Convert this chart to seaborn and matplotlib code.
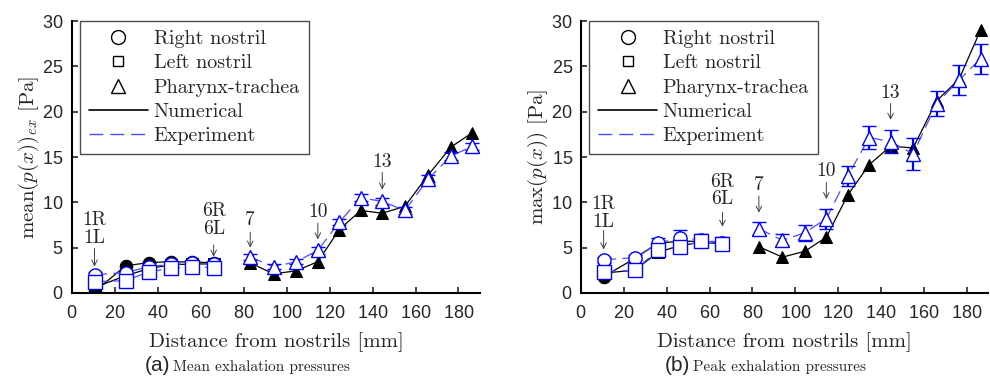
import numpy as np
import pandas as pd
import matplotlib
matplotlib.use("Agg")
import matplotlib.pyplot as plt
from matplotlib.lines import Line2D
import seaborn as sns

# distances [mm]
x_nose = [10.5, 25, 36, 46, 56, 66]
x_phar = [83, 94, 104.5, 114.5, 124.5, 134.5, 144.5, 155, 166, 176.5, 186.5]

# (a) mean exhalation pressures [Pa]
num_mean_right = [0.15, 3.0, 3.35, 3.45, 3.4, 3.35]
num_mean_left = [0.6, 1.9, 2.7, 3.1, 3.2, 3.2]
num_mean_phar = [3.3, 2.1, 2.45, 3.45, 7.0, 9.1, 8.8, 9.55, 13.05, 16.1, 17.7]
exp_mean_right = [2.0, 2.25, 2.9, 3.15, 3.25, 3.15]
exp_mean_left = [1.25, 1.35, 2.35, 2.7, 2.9, 2.8]
exp_mean_phar = [3.95, 2.9, 3.45, 4.7, 7.8, 10.5, 10.1, 9.1, 12.6, 15.1, 16.2]
err_mean_right = [0.3, 0.3, 0.35, 0.3, 0.3, 0.3]
err_mean_left = [0.3, 0.35, 0.35, 0.3, 0.3, 0.3]
err_mean_phar = [0.35, 0.3, 0.3, 0.35, 0.35, 0.4, 0.4, 0.35, 0.4, 0.4, 0.4]

# (b) peak exhalation pressures [Pa]
num_peak_right = [1.8, 3.8, 5.5, 5.7, 5.7, 5.5]
num_peak_left = [2.2, 2.5, 4.5, 5.2, 5.6, 5.4]
num_peak_phar = [5.1, 3.95, 4.6, 6.15, 10.8, 14.15, 16.2, 16.0, 21.2, 23.6, 29.0]
exp_peak_right = [3.65, 3.9, 5.5, 6.1, 5.85, 5.55]
exp_peak_left = [2.35, 2.5, 4.75, 5.1, 5.7, 5.4]
exp_peak_phar = [7.1, 5.8, 6.65, 8.2, 12.9, 17.15, 16.7, 15.35, 20.9, 23.5, 25.85]
err_peak_right = [0.3, 0.3, 0.6, 0.8, 0.6, 0.6]
err_peak_left = [0.3, 0.3, 0.5, 0.6, 0.5, 0.6]
err_peak_phar = [0.7, 0.65, 0.87, 1.1, 1.07, 1.25, 1.23, 1.75, 1.4, 1.7, 1.65]

# annotations: label, x, text centre y, arrow start y, arrow end y
notes_mean = [("1R\n1L", 10.5, 7.1, 4.9, 2.9), ("6R\n6L", 66, 8.05, 5.3, 4.0),
              ("7", 83, 8.0, 6.7, 5.0), ("10", 114.5, 8.95, 7.7, 5.9),
              ("13", 144.5, 14.5, 13.3, 11.4)]
notes_peak = [("1R\n1L", 10.5, 8.8, 6.9, 4.8), ("6R\n6L", 66, 11.3, 8.9, 7.3),
              ("7", 83, 11.9, 10.7, 8.85), ("10", 114.5, 13.4, 12.2, 10.35),
              ("13", 144.5, 22.1, 20.9, 19.1)]

sns.set_style("ticks")
plt.rcParams["font.family"] = ["cmr10", "DejaVu Serif"]
plt.rcParams["mathtext.fontset"] = "cm"
plt.rcParams["axes.formatter.use_mathtext"] = True

BLUE = "#0000ff"
LBLUE = "#4d4dff"
SANS = ["Liberation Sans", "DejaVu Sans"]
DASH = (10, 5)


def draw_panel(ax, num, exp, err, notes, ylabel):
    markers = ["o", "s", "^"]
    xs = [x_nose, x_nose, x_phar]
    for xv, yv, m in zip(xs, num, markers):
        sns.lineplot(x=xv, y=yv, ax=ax, color="k", lw=0.9, marker=m, ms=9,
                     mfc="k", mec="k", zorder=2, sort=False)
    for xv, yv, ev, m in zip(xs, exp, err, markers):
        sns.lineplot(x=xv, y=yv, ax=ax, color=LBLUE, lw=0.9, dashes=DASH,
                     zorder=3, sort=False)
        ax.errorbar(xv, yv, yerr=ev, fmt=m, ms=9.5, mfc="white", mec=BLUE,
                    mew=1.0, ecolor=BLUE, elinewidth=1.6, capsize=5,
                    capthick=1.6, zorder=4)
    for lab, xv, ty, y0, y1 in notes:
        ax.text(xv, ty, lab, ha="center", va="center", fontsize=14,
                linespacing=1.0)
        ax.annotate("", xy=(xv, y1), xytext=(xv, y0),
                    arrowprops=dict(arrowstyle="->", lw=0.7, color="0.25",
                                    shrinkA=0, shrinkB=0))
    ax.set_xlim(0, 190)
    ax.set_ylim(0, 30)
    ax.set_xticks(np.arange(0, 181, 20))
    ax.set_yticks(np.arange(0, 31, 5))
    ax.tick_params(direction="in", length=4, width=1.2, labelsize=13)
    ax.tick_params(axis="x", pad=9)
    ax.tick_params(axis="y", pad=6)
    for t in ax.get_xticklabels() + ax.get_yticklabels():
        t.set_family(SANS)
    sns.despine(ax=ax)
    for s in ["left", "bottom"]:
        ax.spines[s].set_linewidth(1.5)
        ax.spines[s].set_color("k")
    ax.set_xlabel("Distance from nostrils [mm]", fontsize=15, labelpad=7)
    ax.set_ylabel(ylabel, fontsize=15, labelpad=1)

    handles = [
        Line2D([], [], ls="none", marker="o", mfc="none", mec="k", ms=10),
        Line2D([], [], ls="none", marker="s", mfc="none", mec="k", ms=7.5),
        Line2D([], [], ls="none", marker="^", mfc="none", mec="k", ms=10),
        Line2D([], [], color="k", lw=1.2),
        Line2D([], [], color=LBLUE, lw=1.0, dashes=DASH),
    ]
    labels = ["Right nostril", "Left nostril", "Pharynx-trachea",
              "Numerical", "Experiment"]
    leg = ax.legend(handles, labels, loc="upper left",
                    bbox_to_anchor=(0.02, 1.0), borderaxespad=0,
                    fontsize=14.5, handlelength=2.9, handletextpad=0.3,
                    labelspacing=0.3, borderpad=0.45, fancybox=False,
                    framealpha=1, edgecolor="0.3")
    leg.get_frame().set_linewidth(1.0)


fig = plt.figure(figsize=(9.9, 3.77), dpi=100)
ax1 = fig.add_axes([0.0727, 0.223, 0.4121, 0.721])
ax2 = fig.add_axes([0.587, 0.223, 0.411, 0.721])

draw_panel(ax1, [num_mean_right, num_mean_left, num_mean_phar],
           [exp_mean_right, exp_mean_left, exp_mean_phar],
           [err_mean_right, err_mean_left, err_mean_phar],
           notes_mean, r"$\mathrm{mean}(p(x))_{ex}$ [Pa]")
draw_panel(ax2, [num_peak_right, num_peak_left, num_peak_phar],
           [exp_peak_right, exp_peak_left, exp_peak_phar],
           [err_peak_right, err_peak_left, err_peak_phar],
           notes_peak, r"$\max(p(x))$ [Pa]")

fig.text(0.1717, 0.016, "(a)", ha="right", va="baseline", fontsize=15,
         family=SANS)
fig.text(0.1747, 0.016, "Mean exhalation pressures", ha="left",
         va="baseline", fontsize=11)
fig.text(0.697, 0.016, "(b)", ha="right", va="baseline", fontsize=15,
         family=SANS)
fig.text(0.700, 0.016, "Peak exhalation pressures", ha="left",
         va="baseline", fontsize=11)

fig.savefig("out.png", dpi=100)
